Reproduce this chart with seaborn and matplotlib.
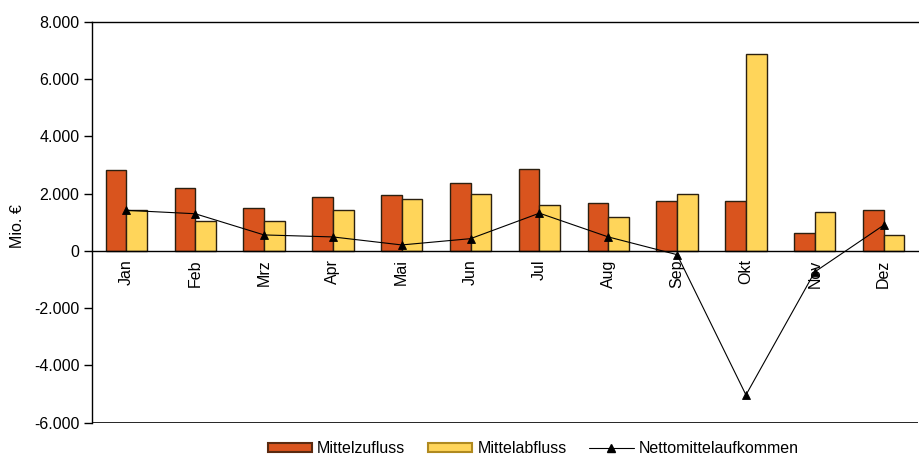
import pandas as pd
import matplotlib.pyplot as plt
import seaborn as sns
from matplotlib.patches import Patch
from matplotlib.lines import Line2D
from matplotlib.ticker import FuncFormatter, FixedLocator

# Data (Mio. EUR)
months = ['Jan', 'Feb', 'Mrz', 'Apr', 'Mai', 'Jun', 'Jul', 'Aug', 'Sep', 'Okt', 'Nov', 'Dez']
zufluss = [2830, 2200, 1500, 1890, 1960, 2380, 2870, 1680, 1750, 1750, 630, 1430]
abfluss = [1430, 1050, 1050, 1430, 1820, 1990, 1600, 1190, 2000, 6890, 1360, 560]
netto = [1420, 1300, 560, 490, 210, 430, 1320, 490, -130, -5030, -730, 900]

red = '#D9541E'
yellow = '#FFD55A'

df = pd.DataFrame({'Monat': months * 2,
                   'Wert': zufluss + abfluss,
                   'Art': ['Mittelzufluss'] * 12 + ['Mittelabfluss'] * 12})
df_net = pd.DataFrame({'Monat': months, 'Netto': netto})

sns.set_style('white')
plt.rcParams['font.family'] = ['Liberation Sans', 'DejaVu Sans']
plt.rcParams['font.size'] = 11.5
plt.rcParams['text.color'] = 'black'
plt.rcParams['axes.labelcolor'] = 'black'
plt.rcParams['xtick.color'] = 'black'
plt.rcParams['ytick.color'] = 'black'

fig = plt.figure(figsize=(9.19, 4.57), dpi=100)
ax = fig.add_axes([0.100, 0.075, 0.899, 0.877])

sns.barplot(data=df, x='Monat', y='Wert', hue='Art', order=months,
            palette=[red, yellow], width=0.6, edgecolor='#2b2010',
            linewidth=1, saturation=1, ax=ax, legend=False)
sns.pointplot(data=df_net, x='Monat', y='Netto', order=months, color='black',
              markers='^', linestyles='-', linewidth=0.8, markersize=6,
              errorbar=None, ax=ax)

ax.set_ylim(-6000, 8000)
ax.set_xlim(-0.5, 11.5)
ax.set_yticks(range(-6000, 8001, 2000))
ax.yaxis.set_major_formatter(FuncFormatter(lambda v, p: f'{int(v):,}'.replace(',', '.')))
ax.tick_params(axis='y', direction='out', length=6, width=1, color='black', pad=3, left=True)

# x axis at zero, category separators as minor ticks
ax.spines['bottom'].set_position(('data', 0))
ax.spines['right'].set_visible(False)
for s in ['left', 'bottom', 'top']:
    ax.spines[s].set_color('black')
    ax.spines[s].set_linewidth(1)
ax.axhline(-6000, color='black', lw=1.2)
ax.xaxis.set_minor_locator(FixedLocator([i + 0.5 for i in range(11)]))
ax.tick_params(axis='x', which='minor', direction='inout', length=9, width=1, color='black')
ax.tick_params(axis='x', which='major', length=0, pad=6, labelrotation=90, bottom=True)
ax.set_xlabel('')
ax.set_ylabel('Mio. €')
ax.yaxis.set_label_coords(-0.081, 0.49)

handles = [Patch(facecolor=red, edgecolor='#5a2a10', linewidth=1.5),
           Patch(facecolor=yellow, edgecolor='#b08a20', linewidth=1.5),
           Line2D([0], [0], color='black', lw=0.8, marker='^', markersize=6)]
fig.legend(handles, ['Mittelzufluss', 'Mittelabfluss', 'Nettomittelaufkommen'],
           loc='lower center', bbox_to_anchor=(0.58, -0.03), ncol=3, frameon=False,
           handlelength=2.8, handleheight=0.5, columnspacing=1.4, handletextpad=0.3)

fig.savefig('out.png', dpi=100)
